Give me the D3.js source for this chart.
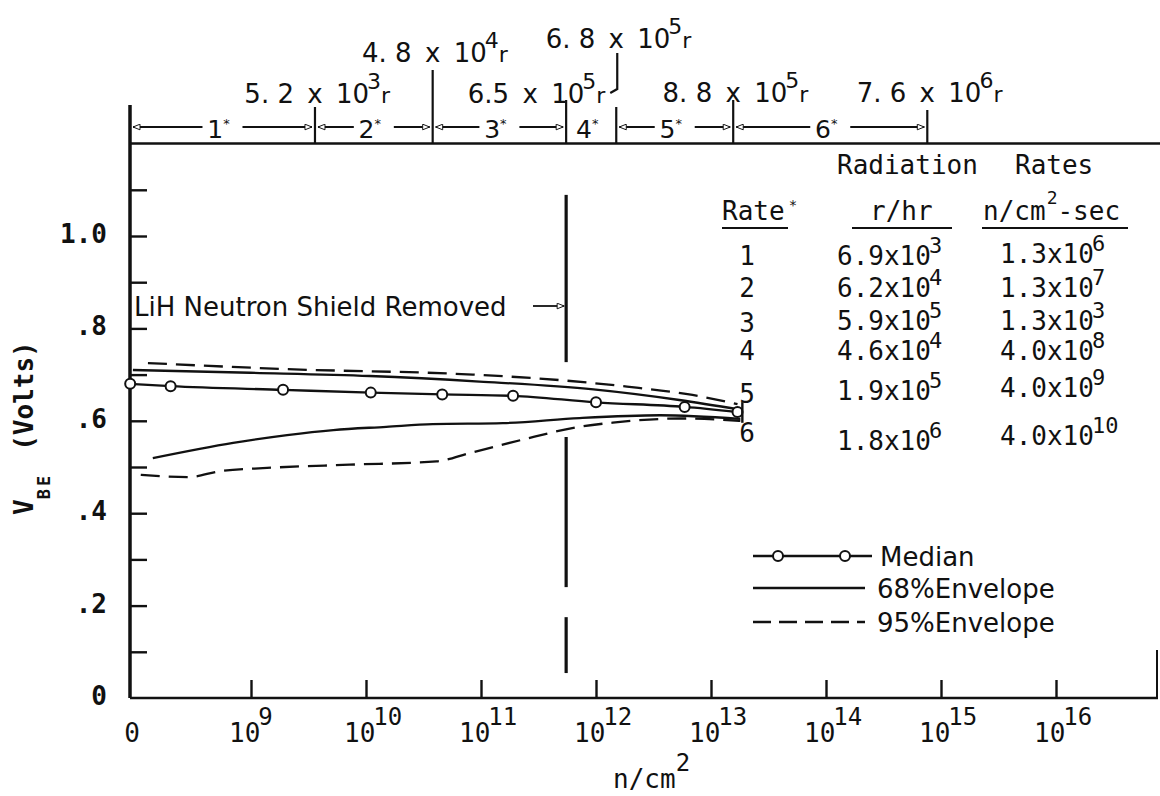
<!DOCTYPE html>
<html><head><meta charset="utf-8">
<script src="https://cdn.jsdelivr.net/npm/d3@7"></script>
<style>
html,body{margin:0;padding:0;background:#fff;}
svg{display:block;}
</style></head><body>
<svg id="chart" width="1160" height="796"></svg>
<script>
// ---------------- DATA ----------------
// x axis: neutron fluence (n/cm^2), log scale; y axis: V_BE (Volts)
const fluenceTicks = [1e9, 1e10, 1e11, 1e12, 1e13, 1e14, 1e15, 1e16];
const fluenceTickExp = ["9", "10", "11", "12", "13", "14", "15", "16"];
const vbeTicks = [0.1, 0.2, 0.3, 0.4, 0.5, 0.6, 0.7, 0.8, 0.9, 1.0, 1.1];
const vbeLabelValues = [0, 0.2, 0.4, 0.6, 0.8, 1.0];
const vbeLabelText = ["0", ".2", ".4", ".6", ".8", "1.0"];

// Median curve (with circles)
const medianFluence = [8.9e7, 2.0e8, 1.9e9, 1.1e10, 4.6e10, 1.9e11, 1.0e12, 5.9e12, 1.7e13];
const medianVbe     = [0.680, 0.675, 0.667, 0.661, 0.657, 0.654, 0.640, 0.630, 0.619];

// 68% envelope (solid)
const env68UpperFluence = [9.4e7, 9.8e8, 1.08e10, 9.7e10, 9.5e11, 5.3e12, 1.8e13];
const env68UpperVbe     = [0.710, 0.704, 0.697, 0.685, 0.668, 0.645, 0.624];
const env68LowerFluence = [1.4e8, 7e8, 2.06e9, 5.2e9, 1.5e10, 3.8e10, 1.55e11, 7.2e11, 3.6e12, 1.8e13];
const env68LowerVbe     = [0.519, 0.552, 0.569, 0.580, 0.587, 0.593, 0.595, 0.606, 0.612, 0.604];

// 95% envelope (dashed)
const env95UpperFluence = [1.27e8, 1.98e9, 8.5e10, 4.9e11, 1.86e12, 6.9e12, 1.7e13];
const env95UpperVbe     = [0.725, 0.712, 0.700, 0.688, 0.674, 0.656, 0.636];
const env95LowerFluence = [1.1e8, 2.8e8, 5.4e8, 1.38e9, 7.2e9, 4.1e10, 7.9e10, 2.2e11, 7.2e11, 1.4e12, 5.4e12, 1.8e13];
const env95LowerVbe     = [0.483, 0.478, 0.491, 0.498, 0.505, 0.512, 0.530, 0.558, 0.587, 0.596, 0.605, 0.600];

// Radiation-rate intervals (cumulative fluence at the end of each rate)
const rateBoundaries = [3.6e9, 3.8e10, 5.5e11, 1.5e12, 1.56e13, 7.6e14];
const rateLabels = ["1", "2", "3", "4", "5", "6"];
const doseMantissa = ["5. 2", "4. 8", "6.5", "6. 8", "8. 8", "7. 6"];
const doseExponent = ["3", "4", "5", "5", "5", "6"];

// LiH shield removal fluence and visible segments of the dashed marker line (in V)
const shieldFluence = 5.5e11;
const shieldSegments = [[1.089, 0.727], [0.565, 0.240], [0.175, 0.054]];

// Table of radiation rates
const tableRate = ["1", "2", "3", "4", "5", "6"];
const tableRhrMant = ["6.9", "6.2", "5.9", "4.6", "1.9", "1.8"];
const tableRhrExp  = ["3", "4", "5", "4", "5", "6"];
const tableFluxMant = ["1.3", "1.3", "1.3", "4.0", "4.0", "4.0"];
const tableFluxExp  = ["6", "7", "3", "8", "9", "10"];

const legendNames = ["Median", "68%Envelope", "95%Envelope"];

// ---------------- LAYOUT ----------------
const SANS = '"DejaVu Sans", sans-serif';
const MONO = '"DejaVu Sans Mono", monospace';
const INK = "#111";
const X0 = 130, X1 = 1158;

const x = d3.scaleLog().domain([1e8, 1e16]).range([136, 1056]);
const y = d3.scaleLinear().domain([0, 1.2]).range([698, 143.6]);

const svg = d3.select("#chart");
svg.append("rect").attr("width", 1160).attr("height", 796).attr("fill", "#fff");

const defs = svg.append("defs");
defs.append("marker").attr("id", "arr")
  .attr("viewBox", "0 0 10 10").attr("refX", 10).attr("refY", 5)
  .attr("markerWidth", 9).attr("markerHeight", 7)
  .attr("markerUnits", "userSpaceOnUse").attr("orient", "auto-start-reverse")
  .append("path").attr("d", "M0,1 L10,5 L0,9 Z")
  .attr("fill", "#fff").attr("stroke", INK).attr("stroke-width", 1.4);

// frame
svg.append("line").attr("x1", X0).attr("x2", X0).attr("y1", 105).attr("y2", y(0))
  .attr("stroke", INK).attr("stroke-width", 3.5);
svg.append("line").attr("x1", X0).attr("x2", X1).attr("y1", y(0)).attr("y2", y(0))
  .attr("stroke", INK).attr("stroke-width", 2.5);
svg.append("line").attr("x1", X0).attr("x2", X1 + 2).attr("y1", y(1.2)).attr("y2", y(1.2))
  .attr("stroke", INK).attr("stroke-width", 2.5);
svg.append("line").attr("x1", X1 - 1).attr("x2", X1 - 1).attr("y1", 650).attr("y2", y(0))
  .attr("stroke", INK).attr("stroke-width", 2);

// y ticks (inward)
const yAx = svg.append("g").attr("transform", `translate(${X0},0)`)
  .call(d3.axisRight(y).tickValues(vbeTicks).tickSize(17).tickFormat(""));
yAx.select(".domain").remove();
yAx.selectAll("line").attr("stroke", INK).attr("stroke-width", 2.4);

// y labels
svg.append("g").selectAll("text").data(vbeLabelValues).join("text")
  .attr("x", 107).attr("y", d => y(d) + 7)
  .attr("text-anchor", "end").attr("font-family", MONO).attr("font-weight", "bold")
  .attr("font-size", 26).attr("fill", INK)
  .text((d, i) => vbeLabelText[i]);

// y title
const yt = svg.append("text").attr("transform", "translate(33,515) rotate(-90)")
  .attr("font-family", MONO).attr("font-weight", "bold").attr("font-size", 26).attr("fill", INK);
yt.append("tspan").text("V");
yt.append("tspan").attr("font-size", 17).attr("letter-spacing", 3).attr("dy", 17).text("BE");
yt.append("tspan").attr("dy", -17).attr("dx", 22).text("(Volts)");

// x ticks (upward)
const xAx = svg.append("g").attr("transform", `translate(0,${y(0)})`)
  .call(d3.axisTop(x).tickValues(fluenceTicks).tickSize(18).tickFormat(""));
xAx.select(".domain").remove();
xAx.selectAll("line").attr("stroke", INK).attr("stroke-width", 2.4);

// x labels
svg.append("text").attr("x", 132).attr("y", 742).attr("text-anchor", "middle")
  .attr("font-family", MONO).attr("font-size", 26).attr("fill", INK).text("0");
const xl = svg.append("g").selectAll("text").data(fluenceTicks).join("text")
  .attr("x", d => x(d) - 22).attr("y", 742)
  .attr("font-family", MONO).attr("font-size", 26).attr("fill", INK);
xl.append("tspan").text("10");
xl.append("tspan").attr("font-size", 24).attr("dy", -17).attr("dx", -2)
  .text((d, i) => fluenceTickExp[i]);

// x title
const xt = svg.append("text").attr("x", 613).attr("y", 788)
  .attr("font-family", MONO).attr("font-size", 26).attr("fill", INK);
xt.append("tspan").text("n/cm");
xt.append("tspan").attr("font-size", 24).attr("dy", -17).text("2");

// ---------------- top rate brackets ----------------
const bracketY = 127;
const dividerTop = [107, 70, 100, 107, 100, 110];
const bounds = [X0].concat(rateBoundaries.map(b => x(b)));
rateBoundaries.forEach((b, i) => {
  svg.append("line").attr("x1", x(b)).attr("x2", x(b))
    .attr("y1", dividerTop[i]).attr("y2", y(1.2))
    .attr("stroke", INK).attr("stroke-width", 2.2);
});
rateLabels.forEach((lab, i) => {
  const L = bounds[i], R = bounds[i + 1], mid = (L + R) / 2;
  const gap = 20;
  if (mid - gap - (L + 3) > 12) {
    svg.append("line").attr("x1", L + 3).attr("x2", mid - gap)
      .attr("y1", bracketY).attr("y2", bracketY)
      .attr("stroke", INK).attr("stroke-width", 1.8).attr("marker-start", "url(#arr)");
    svg.append("line").attr("x1", mid + gap).attr("x2", R - 3)
      .attr("y1", bracketY).attr("y2", bracketY)
      .attr("stroke", INK).attr("stroke-width", 1.8).attr("marker-end", "url(#arr)");
  }
  const t = svg.append("text").attr("x", mid - 4).attr("y", 138).attr("text-anchor", "middle")
    .attr("font-family", SANS).attr("font-size", 25).attr("fill", INK);
  t.append("tspan").text(lab);
  t.append("tspan").attr("font-size", 13).attr("dy", -10).text("*");
});

// dose labels above dividers
const doseBaseline = [103, 62, 103, 48, 102, 102];
const doseShift = [0, 0, -36, 0, 0, 0];
rateBoundaries.forEach((b, i) => {
  const xc = x(b) + doseShift[i], base = doseBaseline[i];
  const g = svg.append("g").attr("font-family", SANS).attr("fill", INK);
  g.append("text").attr("x", xc - 21).attr("y", base).attr("text-anchor", "end")
    .attr("font-size", 26).text(doseMantissa[i]);
  g.append("text").attr("x", xc).attr("y", base).attr("text-anchor", "middle")
    .attr("font-size", 26).text("x");
  const r = g.append("text").attr("x", xc + 21).attr("y", base).attr("font-size", 26);
  r.append("tspan").text("10");
  r.append("tspan").attr("font-size", 22).attr("dy", -14).attr("dx", -2).text(doseExponent[i]);
  r.append("tspan").attr("font-size", 22).attr("dy", 14).text("r");
});
// leader from the 6.8 label down to its divider
svg.append("path")
  .attr("d", `M${x(rateBoundaries[3]) + 1},53 L${x(rateBoundaries[3]) + 1},89 L${x(rateBoundaries[3]) - 6},93`)
  .attr("fill", "none").attr("stroke", INK).attr("stroke-width", 2.2);

// ---------------- shield removed marker ----------------
shieldSegments.forEach(s => {
  svg.append("line").attr("x1", x(shieldFluence)).attr("x2", x(shieldFluence))
    .attr("y1", y(s[0])).attr("y2", y(s[1]))
    .attr("stroke", INK).attr("stroke-width", 3.2);
});
svg.append("text").attr("x", 134).attr("y", 316)
  .attr("font-family", SANS).attr("font-size", 26).attr("fill", INK)
  .text("LiH Neutron Shield Removed");
svg.append("line").attr("x1", 533).attr("x2", x(shieldFluence) - 2)
  .attr("y1", 306).attr("y2", 306)
  .attr("stroke", INK).attr("stroke-width", 1.8).attr("marker-end", "url(#arr)");

// ---------------- curves ----------------
const line = d3.line().x(d => x(d[0])).y(d => y(d[1])).curve(d3.curveMonotoneX);
const zip = (a, b) => a.map((v, i) => [v, b[i]]);
function drawCurve(fl, v, dash) {
  svg.append("path").datum(zip(fl, v)).attr("d", line)
    .attr("fill", "none").attr("stroke", INK).attr("stroke-width", 2.3)
    .attr("stroke-dasharray", dash || null);
}
drawCurve(env95UpperFluence, env95UpperVbe, "19,9");
drawCurve(env95LowerFluence, env95LowerVbe, "19,9");
drawCurve(env68UpperFluence, env68UpperVbe);
drawCurve(env68LowerFluence, env68LowerVbe);
drawCurve(medianFluence, medianVbe);
svg.append("g").selectAll("circle").data(zip(medianFluence, medianVbe)).join("circle")
  .attr("cx", d => x(d[0])).attr("cy", d => y(d[1])).attr("r", 5)
  .attr("fill", "#fff").attr("stroke", INK).attr("stroke-width", 2);

// end bracket joining curve ends
const endF = d3.max([medianFluence, env68UpperFluence, env68LowerFluence, env95UpperFluence, env95LowerFluence], a => a[a.length - 1]);
const endVals = [medianVbe, env68UpperVbe, env68LowerVbe, env95UpperVbe, env95LowerVbe].map(a => a[a.length - 1]);
svg.append("line").attr("x1", x(endF) + 2).attr("x2", x(endF) + 2)
  .attr("y1", y(d3.max(endVals)) - 2).attr("y2", y(d3.min(endVals)) + 2)
  .attr("stroke", INK).attr("stroke-width", 2.4);

// ---------------- table ----------------
const tg = svg.append("g").attr("font-family", MONO).attr("font-size", 26).attr("fill", INK);
tg.append("text").attr("x", 837).attr("y", 174).text("Radiation");
tg.append("text").attr("x", 1015).attr("y", 174).text("Rates");
const h1 = tg.append("text").attr("x", 722).attr("y", 220);
h1.append("tspan").text("Rate");
h1.append("tspan").attr("font-size", 14).attr("dy", -10).attr("dx", 4).text("*");
tg.append("text").attr("x", 870).attr("y", 220).text("r/hr");
const h3 = tg.append("text").attr("x", 983).attr("y", 220);
h3.append("tspan").text("n/cm");
h3.append("tspan").attr("font-size", 18).attr("dy", -16).attr("dx", 1).text("2");
h3.append("tspan").attr("dy", 16).text("-sec");
[[722, 788], [852, 952], [982, 1128]].forEach(u => {
  tg.append("line").attr("x1", u[0]).attr("x2", u[1]).attr("y1", 228).attr("y2", 228)
    .attr("stroke", INK).attr("stroke-width", 2);
});
const rowBase1 = [265, 297, 332, 360, 403, 442];
const rowBase2 = [265, 297, 330, 360, 400, 450];
const rowBase3 = [263, 297, 330, 360, 397, 445];
tg.append("g").selectAll("text").data(tableRate).join("text")
  .attr("x", 747).attr("y", (d, i) => rowBase1[i]).attr("text-anchor", "middle").text(d => d);
const c2 = tg.append("g").selectAll("text").data(tableRhrMant).join("text")
  .attr("x", 837).attr("y", (d, i) => rowBase2[i]);
c2.append("tspan").text(d => d + "x10");
c2.append("tspan").attr("font-size", 22).attr("dy", -12).attr("dx", -2).text((d, i) => tableRhrExp[i]);
const c3 = tg.append("g").selectAll("text").data(tableFluxMant).join("text")
  .attr("x", 1000).attr("y", (d, i) => rowBase3[i]);
c3.append("tspan").text(d => d + "x10");
c3.append("tspan").attr("font-size", 22).attr("dy", -12).attr("dx", -2).text((d, i) => tableFluxExp[i]);

// ---------------- legend ----------------
const lg = svg.append("g");
const legY = [556, 588, 622];
lg.append("line").attr("x1", 753).attr("x2", 872).attr("y1", legY[0]).attr("y2", legY[0])
  .attr("stroke", INK).attr("stroke-width", 2.3);
[778, 845].forEach(cx => lg.append("circle").attr("cx", cx).attr("cy", legY[0]).attr("r", 5)
  .attr("fill", "#fff").attr("stroke", INK).attr("stroke-width", 2));
lg.append("line").attr("x1", 753).attr("x2", 865).attr("y1", legY[1]).attr("y2", legY[1])
  .attr("stroke", INK).attr("stroke-width", 2.3);
lg.append("line").attr("x1", 753).attr("x2", 865).attr("y1", legY[2]).attr("y2", legY[2])
  .attr("stroke", INK).attr("stroke-width", 2.3).attr("stroke-dasharray", "18,8");
legendNames.forEach((n, i) => {
  lg.append("text").attr("x", i === 0 ? 880 : 877).attr("y", legY[i] + 10)
    .attr("font-family", SANS).attr("font-size", 26).attr("fill", INK).text(n);
});
</script></body></html>
